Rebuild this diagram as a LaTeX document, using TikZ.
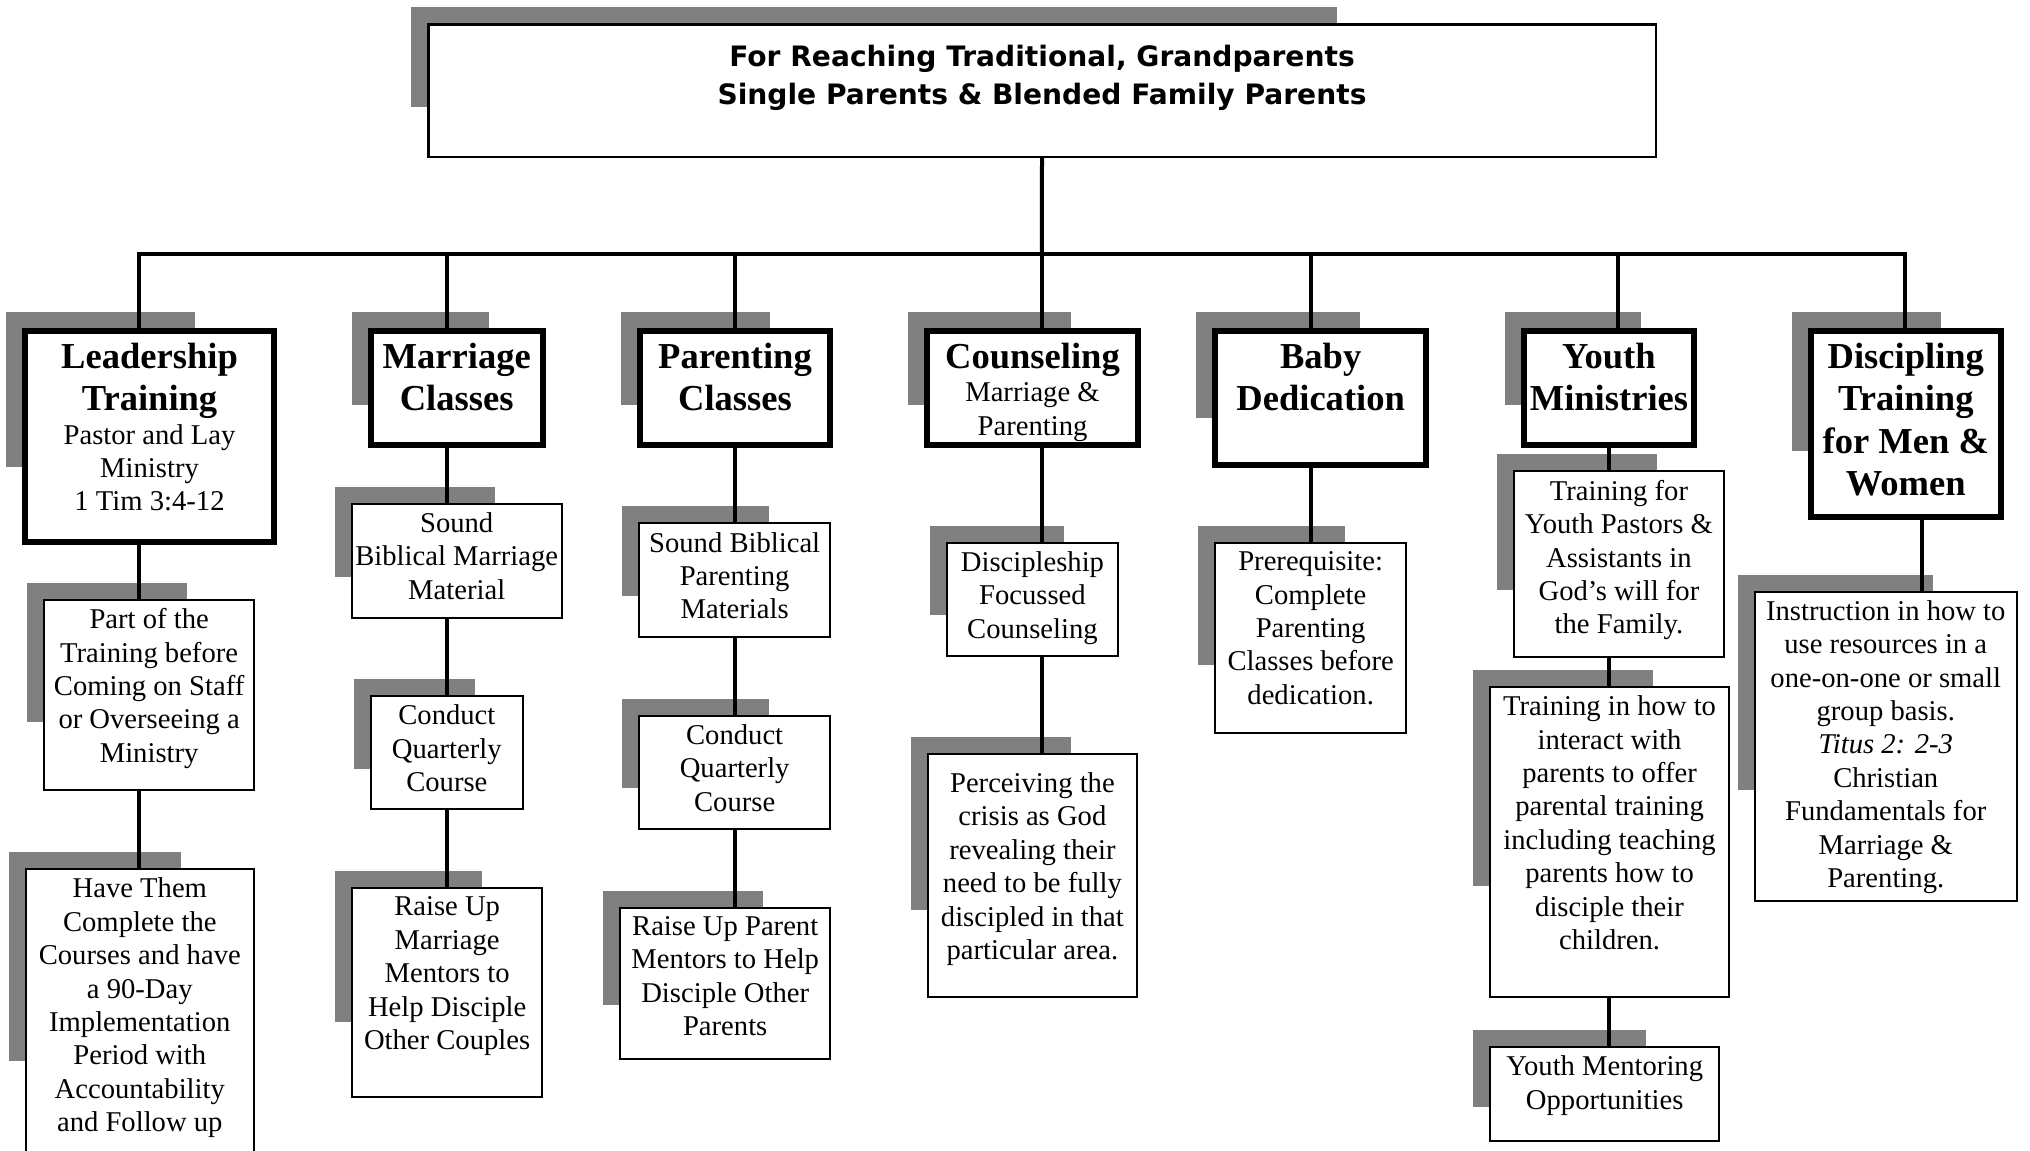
\documentclass[tikz,border=0pt]{standalone}
\usepackage{fontspec}
\setmainfont{Liberation Serif}
\newfontfamily\titlesans{DejaVu Sans}
\usetikzlibrary{calc, backgrounds}

\newlength{\px}
\setlength{\px}{0.02cm}
\definecolor{shadowgray}{RGB}{128,128,128}

\newcommand{\bodyfont}{\fontsize{16.3}{19}\selectfont\mdseries}
\newcommand{\hd}{\fontsize{20.8}{24.1}\selectfont\bfseries}
\newcommand{\titlefont}{\titlesans\bfseries\fontsize{16}{21.8}\selectfont}
% text of a box: [top pad]{width}{height}{lines}
\newcommand{\tb}[4][9]{\parbox[c][#3\px][t]{#2\px}{\centering\vspace*{#1\px}#4}}

\tikzstyle{titlebox} = [rectangle, draw=black, fill=white, line width=0.05cm, inner sep=0pt, anchor=north west, font=\titlefont]
\tikzstyle{headbox} = [rectangle, draw=black, fill=white, line width=0.12cm, inner sep=0pt, anchor=north west, font=\bodyfont]
\tikzstyle{textbox} = [rectangle, draw=black, fill=white, line width=0.04cm, inner sep=0pt, anchor=north west, font=\bodyfont]
\tikzstyle{link} = [line width=0.08cm]

\begin{document}
\begin{tikzpicture}[x=0.02cm, y=-0.02cm]
    \useasboundingbox (0,0) rectangle (2030,1150);
    \clip (0,0) rectangle (2030,1150);

    \node (title) [titlebox] at (427,23) {\tb[21]{1227.5}{132.5}{For Reaching Traditional, Grandparents\\Single Parents \& Blended Family Parents}};

    \node (lead-layer2) [headbox] at (22.3,328) {\tb[12]{248.5}{210.7}{\hd Leadership\\Training\par\bodyfont Pastor and Lay\\Ministry\\1 Tim 3:4-12}};
    \node (marr-layer2) [headbox] at (367.7,328) {\tb[12]{172}{114}{\hd Marriage\\Classes}};
    \node (par-layer2) [headbox] at (637,328) {\tb[12]{190}{114}{\hd Parenting\\Classes}};
    \node (coun-layer2) [headbox] at (924.3,328) {\tb[12]{210.4}{114}{\hd Counseling\par\bodyfont Marriage \&\\Parenting}};
    \node (baby-layer2) [headbox] at (1212.3,328) {\tb[12]{210.7}{134}{\hd Baby\\Dedication}};
    \node (youth-layer2) [headbox] at (1520.5,328) {\tb[12]{170.8}{114}{\hd Youth\\Ministries}};
    \node (disc-layer2) [headbox] at (1807.8,328) {\tb[12]{190}{185.5}{\hd Discipling\\Training\\for Men \&\\Women}};

    \node (lead1-layer3) [textbox] at (43.3,598.6) {\tb{209.7}{190.4}{Part of the\\Training before\\Coming on Staff\\or Overseeing a\\Ministry}};
    \node (lead2-layer3) [textbox] at (24.6,868) {\tb{228.4}{300}{Have Them\\Complete the\\Courses and have\\a 90-Day\\Implementation\\Period with\\Accountability\\and Follow up}};

    \node (marr1-layer3) [textbox] at (350.7,502.7) {\tb{210}{114.3}{Sound\\Biblical Marriage\\Material}};
    \node (marr2-layer3) [textbox] at (370,695) {\tb{151.7}{113}{Conduct\\Quarterly\\Course}};
    \node (marr3-layer3) [textbox] at (351,887) {\tb{190.3}{209.4}{Raise Up\\Marriage\\Mentors to\\Help Disciple\\Other Couples}};

    \node (par1-layer3) [textbox] at (638.3,522.2) {\tb{190.7}{113.5}{Sound Biblical\\Parenting\\Materials}};
    \node (par2-layer3) [textbox] at (638.3,714.6) {\tb{190.7}{112.9}{Conduct\\Quarterly\\Course}};
    \node (par3-layer3) [textbox] at (619.4,906.5) {\tb{209.6}{151.5}{Raise Up Parent\\Mentors to Help\\Disciple Other\\Parents}};

    \node (coun1-layer3) [textbox] at (946,541.7) {\tb{170.9}{112.9}{Discipleship\\Focussed\\Counseling}};
    \node (coun2-layer3) [textbox] at (926.5,752.6) {\tb[19]{209.8}{243.4}{Perceiving the\\crisis as God\\revealing their\\need to be fully\\discipled in that\\particular area.}};

    \node (baby1-layer3) [textbox] at (1214.3,541.7) {\tb{190.7}{189.9}{Prerequisite:\\Complete\\Parenting\\Classes before\\dedication.}};

    \node (youth1-layer3) [textbox] at (1513.3,470.2) {\tb{209.3}{185.5}{Training for\\Youth Pastors \&\\Assistants in\\God’s will for\\the Family.}};
    \node (youth2-layer3) [textbox] at (1489.2,685.9) {\tb{238.7}{310.2}{Training in how to\\interact with\\parents to offer\\parental training\\including teaching\\parents how to\\disciple their\\children.}};
    \node (youth3-layer3) [textbox] at (1489.2,1045.8) {\tb{229}{93.9}{Youth Mentoring\\Opportunities}};

    \node (disc1-layer3) [textbox] at (1753.6,590.5) {\tb{262.3}{309.1}{Instruction in how to\\use resources in a\\one-on-one or small\\group basis.\\\textit{Titus 2: 2-3}\\Christian\\Fundamentals for\\Marriage \&\\Parenting.}};

    % grey shadows behind the boxes
    \begin{scope}[on background layer]
        \fill [shadowgray] let \p1=(title.north west), \p2=(title.south east) in
            (\x1-0.32cm, \y1+0.32cm) rectangle ({\x1+0.74*(\x2-\x1)}, {\y1+0.62*(\y2-\y1)});
        \foreach \b in {lead-layer2, marr-layer2, par-layer2, coun-layer2, baby-layer2, youth-layer2, disc-layer2,
                        lead1-layer3, lead2-layer3, marr1-layer3, marr2-layer3, marr3-layer3, par1-layer3, par2-layer3, par3-layer3,
                        coun1-layer3, coun2-layer3, baby1-layer3, youth1-layer3, youth2-layer3, youth3-layer3, disc1-layer3}
            \fill [shadowgray] let \p1=(\b.north west), \p2=(\b.south east) in
                (\x1-0.32cm, \y1+0.32cm) rectangle ({\x1+0.68*(\x2-\x1)}, {\y1+0.64*(\y2-\y1)});
    \end{scope}

    \coordinate (bus) at (1041.8,253.6);
    \coordinate (lead-col) at (139.3,0);
    \coordinate (marr-col) at (446.7,0);
    \coordinate (par-col) at (735,0);
    \coordinate (coun-col) at (1041.8,0);
    \coordinate (baby-col) at (1310.7,0);
    \coordinate (youth-col) at (1618.2,0);
    \coordinate (youth-low) at (1609.3,0);
    \coordinate (disc-col) at (1905.4,0);
    \coordinate (disc-low) at (1922.3,0);

    \draw [link] (title.south) -- (bus);
    \draw [link] (lead-layer2.north -| lead-col) |- (bus) -| (disc-layer2.north -| disc-col);
    \draw [link] (marr-col |- bus) -- (marr-layer2.north -| marr-col);
    \draw [link] (par-col |- bus) -- (par-layer2.north -| par-col);
    \draw [link] (coun-col |- bus) -- (coun-layer2.north -| coun-col);
    \draw [link] (baby-col |- bus) -- (baby-layer2.north -| baby-col);
    \draw [link] (youth-col |- bus) -- (youth-layer2.north -| youth-col);

    \draw [link] (lead-layer2.south -| lead-col) -- (lead1-layer3.north -| lead-col);
    \draw [link] (lead1-layer3.south -| lead-col) -- (lead2-layer3.north -| lead-col);

    \draw [link] (marr-layer2.south -| marr-col) -- (marr1-layer3.north -| marr-col);
    \draw [link] (marr1-layer3.south -| marr-col) -- (marr2-layer3.north -| marr-col);
    \draw [link] (marr2-layer3.south -| marr-col) -- (marr3-layer3.north -| marr-col);

    \draw [link] (par-layer2.south -| par-col) -- (par1-layer3.north -| par-col);
    \draw [link] (par1-layer3.south -| par-col) -- (par2-layer3.north -| par-col);
    \draw [link] (par2-layer3.south -| par-col) -- (par3-layer3.north -| par-col);

    \draw [link] (coun-layer2.south -| coun-col) -- (coun1-layer3.north -| coun-col);
    \draw [link] (coun1-layer3.south -| coun-col) -- (coun2-layer3.north -| coun-col);

    \draw [link] (baby-layer2.south -| baby-col) -- (baby1-layer3.north -| baby-col);

    \draw [link] (youth-layer2.south -| youth-low) -- (youth1-layer3.north -| youth-low);
    \draw [link] (youth1-layer3.south -| youth-low) -- (youth2-layer3.north -| youth-low);
    \draw [link] (youth2-layer3.south -| youth-low) -- (youth3-layer3.north -| youth-low);

    \draw [link] (disc-layer2.south -| disc-low) -- (disc1-layer3.north -| disc-low);
\end{tikzpicture}
\end{document}
